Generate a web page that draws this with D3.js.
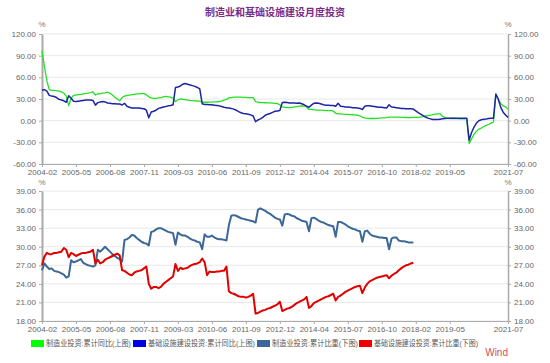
<!DOCTYPE html>
<html>
<head>
<meta charset="utf-8">
<script src="https://cdn.jsdelivr.net/npm/d3@7"></script>
<style>
  body { margin: 0; background: #fff; }
  svg { display: block; font-family: "Liberation Sans", "Noto Sans CJK SC", sans-serif; }
  .axis text { fill: #666; font-size: 8px; }
  .axis path, .axis line { stroke: #aaa; }
</style>
</head>
<body>
<svg id="chart" width="550" height="363"></svg>
<script>
// months (Jan is merged into Feb in the source data)
var months = [];
for (var yr = 2004; yr <= 2021; yr++) {
  for (var m = 2; m <= 12; m++) {
    if (yr === 2021 && m > 7) break;
    months.push(yr + '-' + (m < 10 ? '0' + m : m));
  }
}

var xTickLabels = ['2004-02', '2005-05', '2006-08', '2007-11', '2009-03', '2010-06', '2011-09',
  '2012-12', '2014-04', '2015-07', '2016-10', '2018-02', '2019-05', '2021-07'];
var topTicks = [-60, -30, 0, 30, 60, 90, 120];
var bottomTicks = [18, 21, 24, 27, 30, 33, 36, 39];

// 制造业投资:累计同比 (Feb..Dec per row)
var mfgYoy = [
  97, 75, 55, 43, 42, 42, 41.5, 41, 40, 38, 34,
  21, 31, 35, 35.5, 36, 36.5, 37, 37.5, 38, 39, 40,
  35.5, 37, 37.5, 38, 38.5, 39.5, 38, 35.5, 32.5, 30, 27.5,
  32, 34, 35, 35.5, 36, 36.5, 37, 37, 37.5, 37.5, 36,
  33, 31.5, 31, 31, 31.5, 32, 33, 33.5, 33, 32.5, 31,
  26.5, 29, 30, 29.5, 29, 28.5, 28, 27.8, 27.5, 27.2, 27,
  25.5, 25.5, 25.5, 25.6, 25.8, 26, 26.2, 26.5, 27, 28.5, 29.5,
  31.5, 32, 32.5, 32.5, 32.5, 32.5, 32.3, 32.2, 32, 32, 31.8,
  26.5, 25.5, 25, 25, 24.8, 24.5, 24.5, 24.3, 24, 23.5, 22,
  19, 18.5, 18, 18, 18.5, 19, 19.5, 20, 20.3, 20, 19.5,
  15.5, 15.5, 15, 14.5, 14.5, 14.5, 14.3, 14, 14, 13.8, 13.5,
  10.2, 9.5, 9.3, 9, 8.8, 8.6, 8.4, 8.2, 8, 7.5, 6.5,
  5, 4, 3.3, 3, 3, 3, 3.2, 3.5, 3.8, 4, 4.2,
  5, 5, 5, 4.8, 4.8, 4.6, 4.5, 4.4, 4.2, 4.2, 4.5,
  4.5, 4.5, 5, 5.5, 6.5, 7, 7.5, 8.5, 9, 9.5, 9.5,
  6, 4.5, 3.2, 3, 3, 3.2, 3, 2.6, 2.5, 2.5, 3.1,
  -31.5, -25.2, -18.8, -14.8, -11.7, -10.2, -8.1, -6.5, -5.3, -3.5, -2.2,
  37.3, 29.8, 23.8, 20.4, 19.2, 15.7
];

// 基础设施建设投资:累计同比
var infraYoy = [
  42, 43, 41, 35, 34, 33.5, 32, 29.5, 28.5, 27.5, 25.5,
  34.5, 31, 27, 26.5, 27, 27.5, 28, 28.5, 28.5, 28.5, 28,
  21.5, 25, 26, 26.5, 26, 24.5, 24, 23.5, 23.5, 23, 23,
  21.7, 24, 20, 18.5, 17.5, 17.5, 17.5, 17.5, 17, 16.5, 14.5,
  4, 12, 13, 14.5, 17, 18, 19, 19.5, 20.5, 21, 22,
  46, 46.5, 48, 50.5, 51.5, 50.5, 49.5, 48.5, 47.5, 46, 44,
  23.5, 22.5, 22.5, 22, 22, 21.5, 21, 20.5, 19.5, 18.5, 18,
  17.5, 17, 16, 14.5, 12.5, 11, 10, 9.5, 9, 8, 6.5,
  -1.5, 1, 2.5, 4.5, 7.5, 9, 10, 11.5, 13, 13.5, 14,
  25, 25.5, 25, 24.5, 24.5, 24.5, 24, 24.5, 23.5, 22, 20,
  18.5, 21.5, 24, 24.5, 24, 23, 22, 21.5, 21.5, 21, 21,
  20, 24, 20, 19.5, 19, 19, 18.5, 18, 18, 17.5, 17,
  15.5, 20, 20.5, 20.5, 20, 19.5, 19, 18.5, 18.5, 18, 17.5,
  22, 19, 18.5, 18, 17.5, 17, 17, 16.5, 16.5, 16.5, 16,
  13.5, 11, 9, 7, 5, 3.5, 2.5, 1.5, 1.5, 1.5, 2,
  2.5, 3, 3.2, 3.5, 3.3, 3.3, 3.2, 3.2, 3.3, 3.3, 3.3,
  -26.9, -16.4, -8.8, -3.3, -0.1, 1.2, 2.0, 2.4, 3.0, 3.3, 3.4,
  36.6, 29.7, 18.4, 11.8, 7.8, 4.6
];

// 制造业投资:累计比重 (2004-02 .. 2017-12)
var mfgShare = [
  26.2, 27.3, 26.8, 26.4, 26.5, 26.1, 26, 25.9, 25.7, 25.5, 25.0,
  25.2, 27.8, 27.5, 27.6, 27.8, 28, 27.4, 27.2, 27, 26.9, 26.8,
  27, 29.5, 29.2, 29.6, 30, 29.6, 29.2, 28.8, 28.5, 28.2, 28,
  27.6, 31.1, 31.2, 31.5, 31.9, 31.8, 31.4, 31.1, 30.8, 30.6, 30.5,
  30.2, 32.4, 32.5, 32.8, 33, 33, 32.8, 32.6, 32.4, 32.3, 32.2,
  30.3, 32.3, 32, 31.8, 31.8, 31.6, 31.3, 31.1, 31, 30.8, 30.7,
  29.6, 32, 31.6, 31.6, 31.8, 31.5, 31.3, 31.2, 31.2, 31.1, 31,
  33.5, 35, 35.1, 35, 34.8, 34.6, 34.5, 34.4, 34.3, 34.2, 34.1,
  33.9, 36, 36.2, 36, 35.8, 35.5, 35.3, 35, 34.7, 34.5, 34.4,
  33.4, 35.2, 35.3, 35.2, 35, 34.9, 34.6, 34.4, 34.2, 34.1, 34,
  32.5, 34.6, 34.7, 34.5, 34.2, 34, 33.9, 33.7, 33.5, 33.4, 33.3,
  31.6, 34, 34, 33.8, 33.6, 33.3, 33.1, 32.9, 32.8, 32.6, 32.5,
  30.8, 32.5, 32.6, 32.1, 31.8, 31.7, 31.6, 31.5, 31.5, 31.4, 31.4,
  29.6, 31.3, 31.5, 31.5, 31, 30.9, 30.9, 30.8, 30.7, 30.7, 30.7
];

// 基础设施建设投资:累计比重 (2004-02 .. 2017-12)
var infraShare = [
  27, 28.4, 29, 28.8, 28.8, 29, 29, 29.1, 29.2, 29.8, 29.5,
  28.3, 29, 28.8, 28.5, 28.7, 28.9, 29, 29, 29.1, 29.2, 29.5,
  27.3, 27.9, 27.3, 27.5, 27.9, 28.1, 28.3, 28.5, 28.7, 28.9, 28.6,
  26.2, 26.1, 25.8, 25.5, 25.4, 25.8, 26, 26.1, 26.2, 26.5, 26.8,
  24, 23.2, 23.5, 23.5, 23.3, 23.5, 24, 24.3, 24.6, 24.9, 25.2,
  27.2, 26.1, 26.6, 26.4, 26.5, 26.6, 26.9, 27.1, 27.2, 27.3, 27.5,
  28.1, 27.5, 25.4, 26, 25.9, 25.9, 26, 26, 26.1, 26.1, 26.8,
  22.8, 22.5, 22.4, 22.2, 22, 21.9, 21.9, 21.8, 21.9, 22.1, 22.4,
  19.2, 19.3, 19.5, 19.7, 19.8, 20, 20.1, 20.3, 20.5, 20.7, 21.1,
  19.6, 19.8, 20, 20.1, 20.3, 20.6, 20.9, 21.1, 21.3, 21.5, 21.9,
  20.1, 20.4, 20.9, 21.1, 21.3, 21.5, 21.7, 21.9, 22, 22.2, 22.4,
  21.3, 21.9, 22.1, 22.4, 22.7, 22.9, 23.1, 23.3, 23.5, 23.6, 23.7,
  22.5, 23.4, 24, 24.4, 24.6, 24.8, 25, 25.1, 25.2, 25.3, 25.4,
  24.9, 25.3, 25.6, 25.8, 26.2, 26.5, 26.8, 27, 27.1, 27.3, 27.4
];

var seriesNames = ['制造业投资:累计同比(上图)', '基础设施建设投资:累计同比(上图)',
  '制造业投资:累计比重(下图)', '基础设施建设投资:累计比重(下图)'];
var lineColors = ['#22e022', '#1d24a6', '#3b6898', '#e00000'];
var legendColors = ['#00ff00', '#0000e6', '#3b6898', '#ee0000'];

var svg = d3.select('#chart');
var left = 42, right = 508;

var x = d3.scaleLinear().domain([0, months.length - 1]).range([left, right]);
var yTop = d3.scaleLinear().domain([-60, 120]).range([164, 34]);
var yBot = d3.scaleLinear().domain([18, 39]).range([321, 191]);
var xTickIdx = xTickLabels.map(function (s) { return months.indexOf(s); });
var fmt = function (d) { return d.toFixed(2); };

svg.append('text')
  .attr('x', 275).attr('y', 16)
  .attr('text-anchor', 'middle')
  .style('font-size', '10px').style('font-weight', 'bold')
  .style('fill', '#7b2a88')
  .text('制造业和基础设施建设月度投资');

function panel(y, ticks, top) {
  // gridlines
  svg.append('g').selectAll('line').data(ticks).enter().append('line')
    .attr('x1', left).attr('x2', right)
    .attr('y1', function (d) { return y(d); }).attr('y2', function (d) { return y(d); })
    .style('stroke', '#e8e8e8');

  svg.append('g').attr('class', 'axis')
    .attr('transform', 'translate(0,' + y.range()[0] + ')')
    .call(d3.axisBottom(x).tickValues(xTickIdx).tickFormat(function (i) { return months[i]; })
      .tickSize(3).tickPadding(2).tickSizeOuter(0));

  svg.append('g').attr('class', 'axis')
    .attr('transform', 'translate(' + left + ',0)')
    .call(d3.axisLeft(y).tickValues(ticks).tickFormat(fmt).tickSize(3).tickSizeOuter(0))
    .select('.domain').style('stroke-width', 2);

  svg.append('g').attr('class', 'axis')
    .attr('transform', 'translate(' + right + ',0)')
    .call(d3.axisRight(y).tickValues(ticks).tickFormat(fmt).tickSize(3).tickSizeOuter(0))
    .select('.domain').style('stroke-width', 1.5);

  [left, right].forEach(function (px) {
    svg.append('text').attr('x', px).attr('y', top)
      .attr('text-anchor', 'middle')
      .style('font-size', '8px').style('fill', '#777')
      .text('%');
  });
}

panel(yTop, topTicks, 27);
panel(yBot, bottomTicks, 185);

function drawLine(values, y, color, width) {
  var line = d3.line()
    .x(function (d, i) { return x(i); })
    .y(function (d) { return y(d); });
  svg.append('path').datum(values)
    .attr('d', line)
    .style('fill', 'none')
    .style('stroke', color)
    .style('stroke-width', width)
    .style('stroke-linejoin', 'round');
}

drawLine(mfgYoy, yTop, lineColors[0], 1.3);
drawLine(infraYoy, yTop, lineColors[1], 1.5);
drawLine(mfgShare, yBot, lineColors[2], 2);
drawLine(infraShare, yBot, lineColors[3], 2);

// legend: swatch positions and text widths as laid out in the source image
var legendX = [31, 133, 257, 359];
var legendW = [85, 107, 86, 104];
seriesNames.forEach(function (name, i) {
  svg.append('rect').attr('x', legendX[i]).attr('y', 340).attr('width', 13).attr('height', 7)
    .style('fill', legendColors[i]);
  svg.append('text').attr('x', legendX[i] + 15).attr('y', 346.3)
    .attr('textLength', legendW[i]).attr('lengthAdjust', 'spacingAndGlyphs')
    .style('font-size', '7.5px').style('fill', '#555')
    .text(name);
});

svg.append('text')
  .attr('x', 508).attr('y', 356)
  .attr('text-anchor', 'end')
  .style('font-size', '10px').style('fill', '#d05050')
  .text('Wind');
</script>
</body>
</html>
